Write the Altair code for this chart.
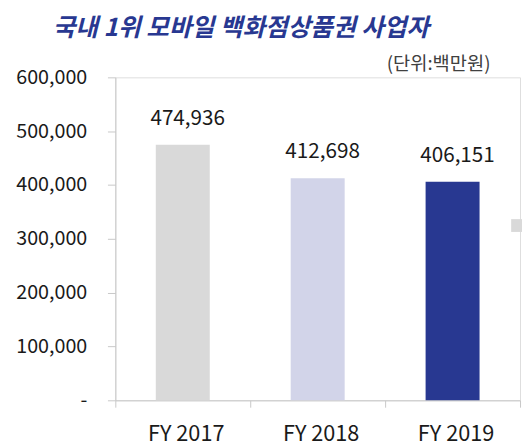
import altair as alt
import pandas as pd

years = ["FY 2017", "FY 2018", "FY 2019"]
values = [474936, 412698, 406151]
colors = ["#D9D9D9", "#D2D4E9", "#283891"]
y_ticks = [0, 100000, 200000, 300000, 400000, 500000, 600000]

title_text = "국내 1위 모바일 백화점상품권 사업자"
unit_text = "(단위:백만원)"

df = pd.DataFrame({"year": years, "value": values})
FONT = "Noto Sans CJK KR"

x_enc = alt.X(
    "year:N",
    sort=years,
    title=None,
    scale=alt.Scale(paddingInner=0, paddingOuter=0),
    axis=alt.Axis(
        tickBand="extent",
        labelAngle=0,
        labelFont=FONT,
        labelFontSize=22,
        labelColor="#1a1a1a",
        labelPadding=17,
        labelOffset=3,
        tickSize=7,
        tickColor="#c8c8c8",
        domainColor="#c8c8c8",
        grid=False,
    ),
)
y_enc = alt.Y(
    "value:Q",
    title=None,
    scale=alt.Scale(domain=[0, 600000], nice=False),
    axis=alt.Axis(
        values=y_ticks,
        labelExpr="datum.value == 0 ? '-' : format(datum.value, ',')",
        labelFont=FONT,
        labelFontSize=20,
        labelColor="#1a1a1a",
        labelPadding=21,
        tickSize=8,
        tickColor="#c8c8c8",
        domainColor="#c8c8c8",
        grid=False,
    ),
)

bars = alt.Chart(df).mark_bar(width=alt.RelativeBandSize(0.4)).encode(
    x=x_enc,
    y=y_enc,
    color=alt.Color(
        "year:N",
        scale=alt.Scale(domain=years, range=colors),
        legend=alt.Legend(
            title=None,
            orient="none",
            legendX=402,
            legendY=144,
            values=["FY 2017"],
            labelExpr="''",
            symbolType="square",
            symbolSize=169,
            symbolStrokeWidth=0,
            padding=0,
        ),
    ),
)

labels = alt.Chart(df).mark_text(
    font=FONT, fontSize=21, color="#1a1a1a", baseline="bottom", dy=-16, dx=5
).encode(
    x=alt.X("year:N", sort=years),
    y="value:Q",
    text=alt.Text("value:Q", format=","),
)

unit = alt.Chart(pd.DataFrame({"t": [unit_text]})).mark_text(
    font=FONT, fontSize=19, color="#404040", align="right", baseline="middle"
).encode(x=alt.value(381), y=alt.value(-13), text="t:N")

chart = (
    alt.layer(bars, labels, unit)
    .properties(
        width=411,
        height=328,
        padding={"left": 109, "top": 67, "right": 2, "bottom": 44},
        autosize=alt.AutoSizeParams(type="none"),
        title=alt.TitleParams(
            text=title_text,
            font=FONT,
            fontSize=25,
            fontWeight="bold",
            fontStyle="italic",
            color="#283891",
            anchor="middle",
            dx=-78,
            dy=-11,
        ),
    )
    .configure_view(stroke=None)
    .configure(background="white")
)

chart.save("out.html", embed_options={"renderer": "svg", "actions": False})
